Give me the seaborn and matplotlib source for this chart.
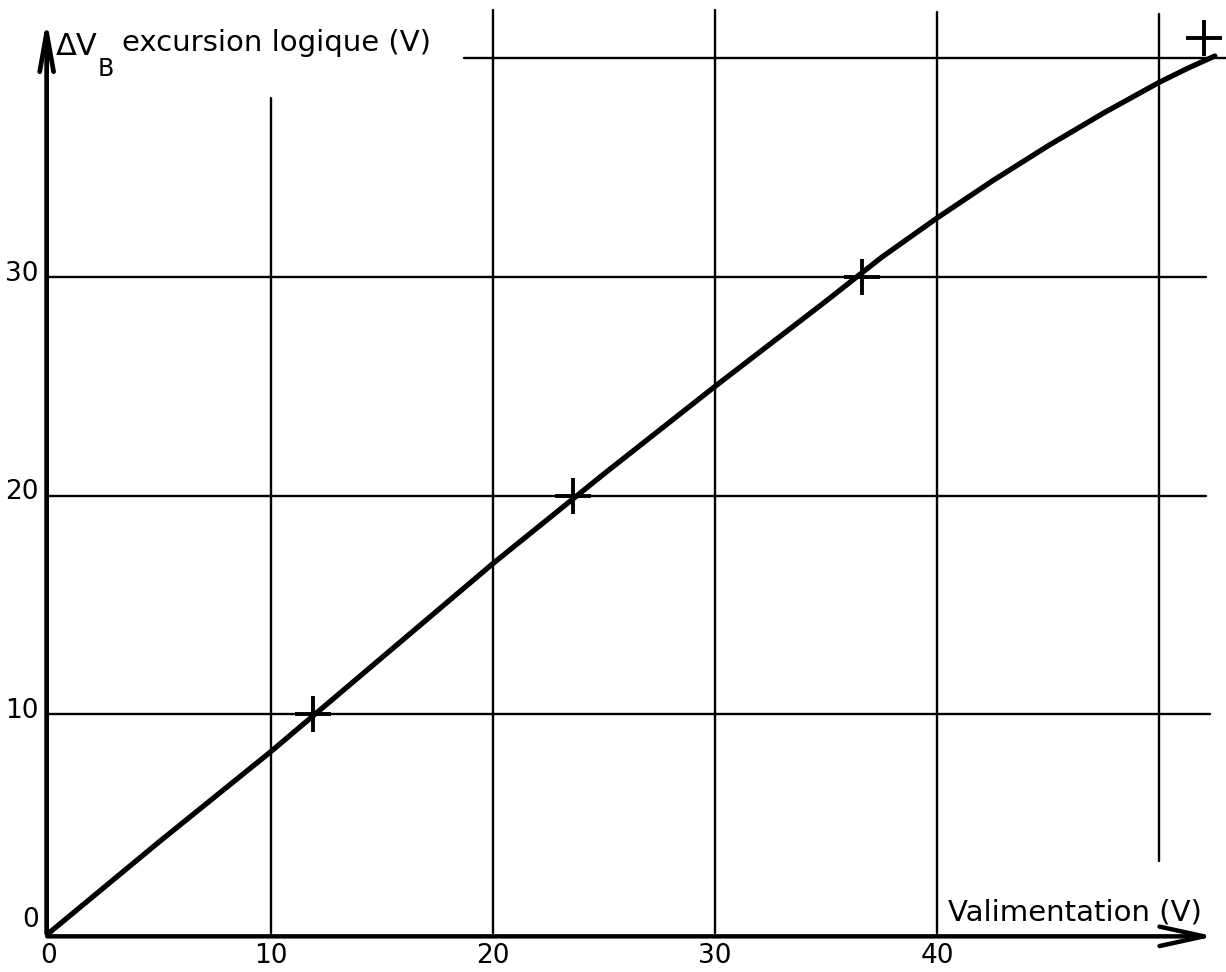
import matplotlib
matplotlib.use("Agg")
import matplotlib.pyplot as plt
import seaborn as sns
import pandas as pd

# ---- data ----
curve_x = [0, 5, 10, 15, 20, 25, 30, 35, 37.5, 40, 42.5, 45, 47.5, 50, 51.3, 52.5]
curve_y = [0, 4.2, 8.3, 12.6, 16.9, 21.0, 25.0, 28.9, 30.9, 32.7, 34.4, 36.0, 37.5, 38.9, 39.55, 40.1]
meas_x = [11.9, 23.6, 36.6, 52.0]
meas_y = [10.0, 20.0, 30.0, 40.9]
x_ticks = [0, 10, 20, 30, 40]
y_ticks = [0, 10, 20, 30]
x_grid = [10, 20, 30, 40, 50]
y_grid = [10, 20, 30, 40]
x_title = "Valimentation (V)"
y_title = "excursion logique (V)"

sns.set_theme(style="white")
plt.rcParams['font.family'] = ['DejaVu Sans']
plt.rcParams['text.color'] = 'black'

fig = plt.figure(figsize=(12.26, 9.72), dpi=100)
ax = fig.add_axes([0, 0, 1, 1])

# grid (hand-drawn extents)
vx_top = {10: 38.2, 20: 42.2, 30: 42.2, 40: 42.1, 50: 42.0}
vx_bot = {10: 0, 20: 0, 30: 0, 40: 0, 50: 3.3}
for gx in x_grid:
    ax.plot([gx, gx], [vx_bot[gx], vx_top[gx]], color='black', lw=1.7, zorder=1)
hy_left = {10: 0, 20: 0, 30: 0, 40: 18.7}
hy_right = {10: 52.3, 20: 52.1, 30: 52.1, 40: 53.0}
for gy in y_grid:
    ax.plot([hy_left[gy], hy_right[gy]], [gy, gy], color='black', lw=1.7, zorder=1)

# axes with arrows
ax.annotate('', xy=(-0.1, 41.9), xytext=(-0.1, -0.15),
            arrowprops=dict(arrowstyle='->, head_length=1.4, head_width=0.25',
                            lw=3.4, color='black', mutation_scale=20), zorder=3)
ax.annotate('', xy=(52.6, -0.15), xytext=(-0.2, -0.15),
            arrowprops=dict(arrowstyle='->, head_length=1.6, head_width=0.35',
                            lw=3.2, color='black', mutation_scale=20), zorder=3)

df_curve = pd.DataFrame({'x': curve_x, 'y': curve_y})
sns.lineplot(data=df_curve, x='x', y='y', ax=ax, color='black', lw=3.8,
             sort=True, zorder=4)
df_meas = pd.DataFrame({'x': meas_x, 'y': meas_y})
sns.scatterplot(data=df_meas, x='x', y='y', ax=ax, marker='+', s=650,
                color='black', linewidth=2.8, zorder=5)
ax.set_xlim(-2.2, 53.0)
ax.set_ylim(-1.78, 42.66)
ax.axis('off')

# tick labels
for t in x_ticks:
    ax.text(t, -1.05, str(t), ha='center', va='center', fontsize=19)
for t in y_ticks:
    yy = t + 0.15 if t else 0.6
    ax.text(-0.45, yy, str(t), ha='right', va='center', fontsize=19)

# titles
ax.text(0.3, 40.55, "ΔV", ha='left', va='center', fontsize=22)
ax.text(2.2, 39.5, "B", ha='left', va='center', fontsize=17)
ax.text(3.3, 40.7, y_title, ha='left', va='center', fontsize=21)
ax.text(40.5, 0.95, x_title, ha='left', va='center', fontsize=21)

fig.savefig("out.png", dpi=100)
